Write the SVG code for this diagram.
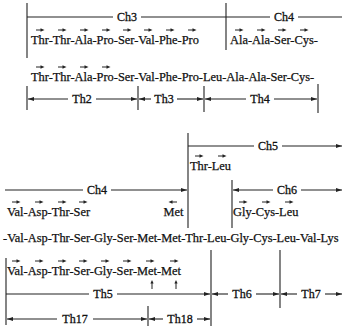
<svg xmlns="http://www.w3.org/2000/svg" xmlns:xlink="http://www.w3.org/1999/xlink" width="344" height="326" viewBox="0 0 344 326">
<defs>
<style>
.seq{font-family:"Liberation Serif","Times New Roman",serif;font-size:12.4px;fill:#111;stroke:#111;stroke-width:0.25}
.lbl{font-family:"Liberation Serif","Times New Roman",serif;font-size:12px;fill:#111;stroke:#111;stroke-width:0.3;text-anchor:middle}
.ln{stroke:#222;stroke-width:1.1;fill:none}
.rng{stroke:#222;stroke-width:1.1;fill:none}
.e{marker-end:url(#ah)}
.s{marker-start:url(#ah)}
.ra{stroke:#222;stroke-width:1}
</style>
<marker id="ah" viewBox="0 0 6 4" refX="6" refY="2" markerWidth="6" markerHeight="4" markerUnits="userSpaceOnUse" orient="auto-start-reverse">
<path d="M0,0 L6,2 L0,4 z" fill="#222"/>
</marker>
<g id="r">
<path d="M-4,0 H2" class="ra"/>
<path d="M4.5,0 L0.5,-1.7 L0.5,1.7 z" fill="#222"/>
</g>
<g id="l">
<path d="M4,0 H-2" class="ra"/>
<path d="M-4.5,0 L-0.5,-1.7 L-0.5,1.7 z" fill="#222"/>
</g>
<g id="u">
<path d="M0,9 V2" class="ra"/>
<path d="M0,0 L-1.6,3.5 L1.6,3.5 z" fill="#222"/>
</g>
</defs>
<rect width="344" height="326" fill="#fff"/>

<g id="connectors">
<path class="ln" d="M27,3 V58 M226,3 V50 M27,86 V110 M138,86 V110 M204,86 V112 M318,84 V113"/>
<path class="ln" d="M188,133 V228 M232,180 V228 M211,250 V326 M280,250 V308 M6,258 V325 M148,306 V326"/>
<path class="rng" d="M27,17 H113 M141,17 H226"/>
<path class="rng" d="M226,17 H270 M298,17 H342"/>
<path class="rng s" d="M28,99 H68"/><path class="rng e" d="M96,99 H137"/>
<path class="rng s" d="M139,99 H151"/><path class="rng e" d="M177,99 H203"/>
<path class="rng s" d="M205,99 H246"/><path class="rng e" d="M274,99 H317"/>
<path class="rng" d="M188,146 H254"/><path class="rng e" d="M282,146 H342"/>
<path class="rng" d="M5,190 H83"/><path class="rng e" d="M111,190 H187"/>
<path class="rng s" d="M233,190 H273"/><path class="rng e" d="M301,190 H342"/>
<path class="rng" d="M6,294 H89"/><path class="rng e" d="M117,294 H210"/>
<path class="rng s" d="M212,294 H228"/><path class="rng e" d="M256,294 H279"/>
<path class="rng s" d="M281,294 H297"/><path class="rng e" d="M325,294 H342"/>
<path class="rng s" d="M7,319 H57"/><path class="rng e" d="M93,319 H147"/>
<path class="rng s" d="M149,319 H163"/><path class="rng e" d="M197,319 H210"/>
</g>

<g id="labels">
<text class="lbl" x="127" y="21">Ch3</text>
<text class="lbl" x="284" y="21">Ch4</text>
<text class="lbl" x="82" y="103">Th2</text>
<text class="lbl" x="164" y="103">Th3</text>
<text class="lbl" x="260" y="103">Th4</text>
<text class="lbl" x="268" y="150">Ch5</text>
<text class="lbl" x="97" y="194">Ch4</text>
<text class="lbl" x="287" y="194">Ch6</text>
<text class="lbl" x="103" y="298">Th5</text>
<text class="lbl" x="242" y="298">Th6</text>
<text class="lbl" x="311" y="298">Th7</text>
<text class="lbl" x="75" y="323">Th17</text>
<text class="lbl" x="180" y="323">Th18</text>
</g>

<g id="row-top">
<text class="seq" x="31" y="44">Thr-Thr-Ala-Pro-Ser-Val-Phe-Pro</text>
<text class="seq" x="230" y="44">Ala-Ala-Ser-Cys-</text>
<use xlink:href="#r" x="40" y="30"/><use xlink:href="#r" x="62" y="30"/><use xlink:href="#r" x="84" y="30"/><use xlink:href="#r" x="106" y="30"/>
<use xlink:href="#r" x="127" y="30"/><use xlink:href="#r" x="148" y="30"/><use xlink:href="#r" x="170" y="30"/><use xlink:href="#r" x="192" y="30"/>
<use xlink:href="#r" x="239" y="30"/><use xlink:href="#r" x="261" y="30"/><use xlink:href="#r" x="282" y="30"/><use xlink:href="#r" x="304" y="30"/>
</g>

<g id="row-mid">
<text class="seq" x="31" y="81">Thr-Thr-Ala-Pro-Ser-Val-Phe-Pro-Leu-Ala-Ala-Ser-Cys-</text>
<use xlink:href="#r" x="40" y="67"/><use xlink:href="#r" x="62" y="67"/><use xlink:href="#r" x="84" y="67"/><use xlink:href="#r" x="106" y="67"/>
</g>

<g id="row-ch5">
<text class="seq" x="190" y="170">Thr-Leu</text>
<use xlink:href="#r" x="199" y="156"/><use xlink:href="#r" x="222" y="156"/>
</g>

<g id="row-ch4-ch6">
<text class="seq" x="7" y="216">Val-Asp-Thr-Ser</text>
<use xlink:href="#r" x="16" y="202"/><use xlink:href="#r" x="39" y="202"/><use xlink:href="#r" x="62" y="202"/><use xlink:href="#r" x="83" y="202"/>
<text class="seq" x="163.5" y="216">Met</text>
<use xlink:href="#l" x="173" y="202"/>
<text class="seq" x="233" y="216">Gly-Cys-Leu</text>
<use xlink:href="#r" x="243" y="202"/><use xlink:href="#r" x="266" y="202"/><use xlink:href="#r" x="289" y="202"/>
</g>

<g id="row-main">
<text class="seq" x="3" y="242">-Val-Asp-Thr-Ser-Gly-Ser-Met-Met-Thr-Leu-Gly-Cys-Leu-Val-Lys</text>
</g>

<g id="row-bottom">
<text class="seq" x="7" y="275">Val-Asp-Thr-Ser-Gly-Ser-Met-Met</text>
<use xlink:href="#r" x="16" y="261"/><use xlink:href="#r" x="39" y="261"/><use xlink:href="#r" x="62" y="261"/><use xlink:href="#r" x="83" y="261"/>
<use xlink:href="#r" x="105" y="261"/><use xlink:href="#r" x="127" y="261"/><use xlink:href="#r" x="150" y="261"/><use xlink:href="#r" x="174" y="261"/>
<use xlink:href="#u" x="152" y="280"/><use xlink:href="#u" x="176" y="280"/>
</g>
</svg>
